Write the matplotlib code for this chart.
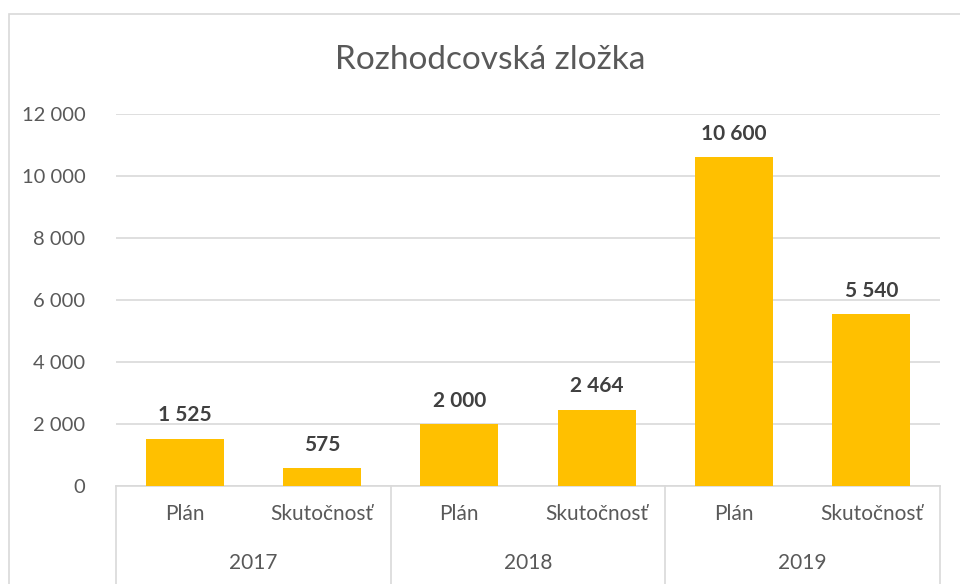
import matplotlib.pyplot as plt
import matplotlib.transforms as mtransforms
from matplotlib.patches import Rectangle

plt.rcParams["font.family"] = ["Lato", "DejaVu Sans"]

years = ["2017", "2018", "2019"]
kinds = ["Plán", "Skutočnosť"]
values = [1525, 575, 2000, 2464, 10600, 5540]
y_ticks = [0, 2000, 4000, 6000, 8000, 10000, 12000]


def fmt(v):
    return f"{v:,}".replace(",", " ")


fig = plt.figure(figsize=(9.6, 5.84), dpi=100)

# chart frame
fig.patches.append(
    Rectangle((9 / 960, -0.1), 1.2, (584 - 14) / 584 + 0.1,
              transform=fig.transFigure, fill=False,
              edgecolor="#d9d9d9", linewidth=1.2)
)

ax = fig.add_axes([116 / 960, (584 - 486) / 584,
                   (940 - 116) / 960, (486 - 114) / 584])

x = list(range(len(values)))
bars = ax.bar(x, values, width=0.57, color="#FFC000", zorder=3)

for xi, v in zip(x, values):
    ax.annotate(fmt(v), (xi, v), xytext=(0, 12.5), textcoords="offset points",
                ha="center", va="baseline", fontsize=15, fontweight="bold",
                color="#404040")

ax.set_xlim(-0.5, len(values) - 0.5)
ax.set_ylim(0, 12000)
ax.set_yticks(y_ticks)
ax.set_yticklabels([fmt(t) for t in y_ticks])
ax.yaxis.grid(True, color="#d9d9d9", linewidth=1.2, zorder=0)
ax.tick_params(axis="y", length=0, pad=22, labelsize=14.5, labelcolor="#595959")

ax.set_xticks(x)
ax.set_xticklabels(kinds * len(years))
ax.tick_params(axis="x", length=0, pad=13, labelsize=15, labelcolor="#595959")

for s in ["top", "right", "left"]:
    ax.spines[s].set_visible(False)
ax.spines["bottom"].set_color("#d9d9d9")
ax.spines["bottom"].set_linewidth(1.2)

# multi-level category axis
trans = mtransforms.blended_transform_factory(ax.transData, ax.transAxes)
for b in [-0.5, 1.5, 3.5, 5.5]:
    ax.plot([b, b], [0, -0.27], transform=trans, color="#d9d9d9",
            linewidth=1.2, clip_on=False)
for i, yr in enumerate(years):
    ax.text(2 * i + 0.5, -0.207, yr, transform=trans, ha="center",
            va="center", fontsize=15, color="#595959")

fig.text(490 / 960, (584 - 60) / 584, "Rozhodcovská zložka", ha="center",
         va="center", fontsize=24, color="#595959")

fig.savefig("out.png", dpi=100)
